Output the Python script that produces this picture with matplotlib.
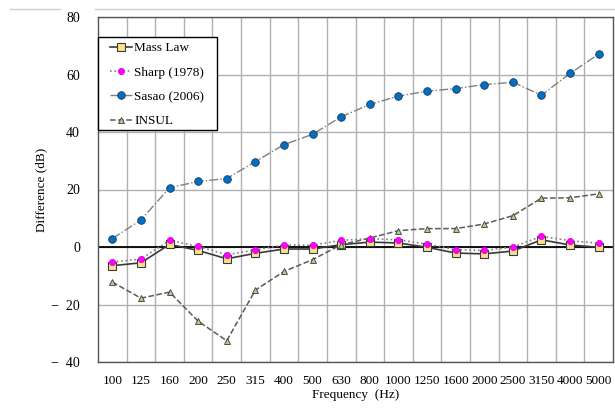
import matplotlib
matplotlib.use('Agg')
import matplotlib.pyplot as plt
from matplotlib.ticker import FuncFormatter, FixedLocator
from matplotlib.lines import Line2D
from matplotlib.patches import Rectangle

plt.rcParams['font.family'] = ['Liberation Serif', 'DejaVu Serif']

freqs = ['100', '125', '160', '200', '250', '315', '400', '500', '630', '800',
         '1000', '1250', '1600', '2000', '2500', '3150', '4000', '5000']
mass_law = [-6.5, -5.5, 0.9, -1.2, -4.1, -2.2, -0.7, -0.7, 0.8, 1.7,
            1.4, -0.1, -2.1, -2.4, -1.4, 2.5, 0.7, -0.1]
sharp = [-5.2, -4.2, 2.3, 0.2, -2.7, -1.0, 0.7, 0.6, 2.3, 2.9,
         2.5, 1.0, -0.9, -1.2, 0.0, 3.7, 2.2, 1.3]
sasao = [2.9, 9.4, 20.6, 22.8, 23.8, 29.7, 35.6, 39.2, 45.3, 49.6,
         52.5, 54.2, 55.1, 56.5, 57.3, 52.8, 60.4, 67.1]
insul = [-12.2, -17.8, -15.7, -25.8, -32.6, -15.0, -8.5, -4.4, 0.8, 3.1,
         5.7, 6.4, 6.4, 8.0, 10.9, 17.0, 17.1, 18.5]

x = list(range(len(freqs)))
W, H = 615, 408

fig = plt.figure(figsize=(6.15, 4.08), dpi=100)
ax = fig.add_axes([98 / W, 1 - 362 / H, 515 / W, 345 / H])

# grid
ax.set_xlim(-0.5, len(freqs) - 0.5)
ax.set_ylim(-40, 80)
ax.xaxis.set_minor_locator(FixedLocator([i + 0.5 for i in range(len(freqs) - 1)]))
ax.grid(which='minor', axis='x', color='#b0b0b0', linewidth=1.0)
ax.grid(which='major', axis='y', color='#b0b0b0', linewidth=1.0)
ax.set_axisbelow(True)
ax.axhline(0, color='black', linewidth=1.3, zorder=1.5)

ax.plot(x, mass_law, '-', color='#3a3a3a', linewidth=1.2, marker='s',
        markersize=5.5, markerfacecolor='#ffe08a', markeredgecolor='#3a3a3a',
        markeredgewidth=0.8, label='Mass Law', zorder=3)
ax.plot(x, sharp, ':', color='#7f7f7f', linewidth=1.2, marker='o',
        markersize=4.5, markerfacecolor='#ff00ff', markeredgecolor='#d000d0',
        markeredgewidth=0.5, label='Sharp (1978)', zorder=4)
ax.plot(x, sasao, '-.', color='#808080', linewidth=1.0, marker='o',
        markersize=5.5, markerfacecolor='#0070c0', markeredgecolor='#1f3864',
        markeredgewidth=0.6, label='Sasao (2006)', zorder=3)
ax.plot(x, insul, '--', color='#5a5a5a', linewidth=1.1, marker='^',
        markersize=5, markerfacecolor='#a9d18e', markeredgecolor='#3a3a3a',
        markeredgewidth=0.6, label='INSUL', zorder=3)

ax.set_xticks(x)
ax.set_xticklabels(freqs)
ax.set_yticks([-40, -20, 0, 20, 40, 60, 80])
ax.yaxis.set_major_formatter(FuncFormatter(
    lambda v, p: ('\u2212  %d' % abs(v)) if v < 0 else '%d' % v))
ax.tick_params(axis='both', which='both', length=0, colors='black')
ax.tick_params(axis='x', pad=9, labelsize=9.5)
ax.tick_params(axis='y', pad=13, labelsize=10)
for s in ax.spines.values():
    s.set_color('#555555')
    s.set_linewidth(1.0)

ax.set_xlabel('Frequency  (Hz)', fontsize=9.5, labelpad=2)
ax.set_ylabel('Difference (dB)', fontsize=9.5, labelpad=3)

# legend box drawn by hand, entries placed inside it
fig.add_artist(Rectangle((98 / W, 1 - 130 / H), 119 / W, 93 / H,
                         transform=fig.transFigure, facecolor='white',
                         edgecolor='black', linewidth=1.0, zorder=5))
leg = fig.legend(*ax.get_legend_handles_labels(), loc='upper left',
                 bbox_to_anchor=(110 / W, 1 - 42 / H), fontsize=9.5,
                 frameon=False, handlelength=1.65, handletextpad=0.2,
                 borderpad=0, borderaxespad=0, labelspacing=0.92)
leg.set_zorder(6)

# light rule above the chart
fig.add_artist(Line2D([10 / W, 60 / W], [1 - 9 / H, 1 - 9 / H],
                      color='#cccccc', linewidth=1.0))
fig.add_artist(Line2D([95 / W, 1.0], [1 - 9 / H, 1 - 9 / H],
                      color='#cccccc', linewidth=1.0))

fig.savefig('out.png', dpi=100)
